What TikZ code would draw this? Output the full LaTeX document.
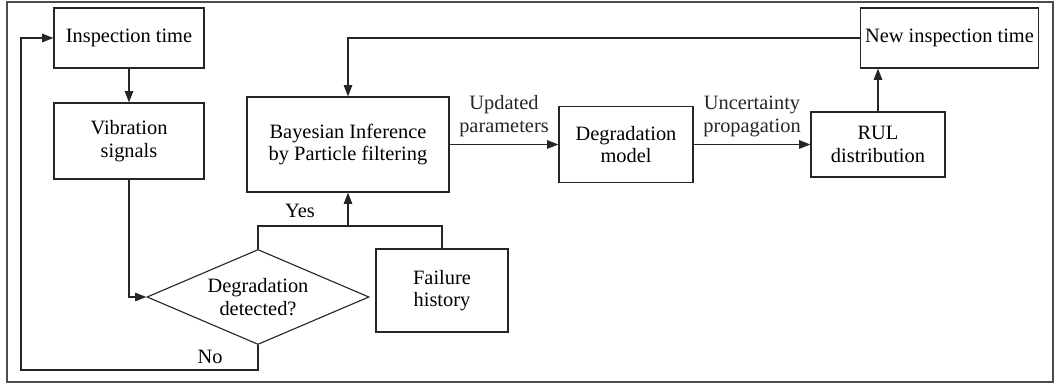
\documentclass[tikz,border=0pt]{standalone}
\usepackage{fontspec}
\setmainfont{Liberation Serif}
\usetikzlibrary{shapes.geometric, arrows.meta, positioning, calc}

\begin{document}
\begin{tikzpicture}[
    x=0.025cm, y=-0.025cm,
    box/.style={rectangle, draw=black!85, line width=0.8pt, fill=white,
                align=center, font=\fontsize{14.5}{16}\selectfont},
    dia/.style={diamond, aspect=2.3, draw=black!85, line width=0.8pt, inner sep=0pt,
                align=center, minimum width=5.55cm, minimum height=2.375cm,
                font=\fontsize{14.5}{16}\selectfont},
    lbl/.style={align=center, font=\fontsize{14.5}{16}\selectfont},
    arr/.style={-{Triangle[length=8pt, width=6pt]}, line width=0.8pt, black!85},
    lin/.style={line width=0.8pt, black!85}
]
\useasboundingbox (0,0) rectangle (1060,385);
\draw[line width=1pt, black!70] (7,2) rectangle (1053,382);

\node[box, minimum width=3.75cm, minimum height=1.5cm] (insp) at (129,38) {Inspection time};
\node[box, minimum width=3.75cm, minimum height=1.9cm] (vib) at (129,141) {Vibration\\signals};
\node[box, minimum width=5.05cm, minimum height=2.375cm] (bayes) at (348,144.5) {Bayesian Inference\\by Particle filtering};
\node[box, minimum width=3.35cm, minimum height=1.9cm] (dmodel) at (626,144.5) {Degradation\\model};
\node[box, minimum width=3.35cm, minimum height=1.625cm] (rul) at (878,144.5) {RUL\\distribution};
\node[box, minimum width=4.425cm, minimum height=1.5cm] (newinsp) at (949.5,38) {New inspection time};
\node[box, minimum width=3.3cm, minimum height=2.075cm] (fail) at (442,290.5) {Failure\\history};
\node[dia] (det) at (258,297) {Degradation\\detected?};

\coordinate (yj) at (348,226);
\coordinate (lp) at (21,370);
\node[lbl] (yes) at (300,211) {Yes};
\node[lbl] (no) at (210,357) {No};

\draw[arr] (insp) -- (vib);
\draw[arr] (vib.south) |- (det.west);
\draw[lin] (det.north) |- (yj) -| (fail.north);
\draw[arr] (yj) -- (bayes.south);
\draw[arr] (det.south) |- (lp) |- (insp.west);
\draw[arr] (bayes) -- (dmodel) node[lbl, midway, above=2pt] {Updated\\parameters};
\draw[arr] (dmodel) -- (rul) node[lbl, midway, above=2pt] {Uncertainty\\propagation};
\draw[arr] (rul.north) -- (rul.north |- newinsp.south);
\draw[arr] (newinsp.west) -| (bayes.north);
\end{tikzpicture}
\end{document}
